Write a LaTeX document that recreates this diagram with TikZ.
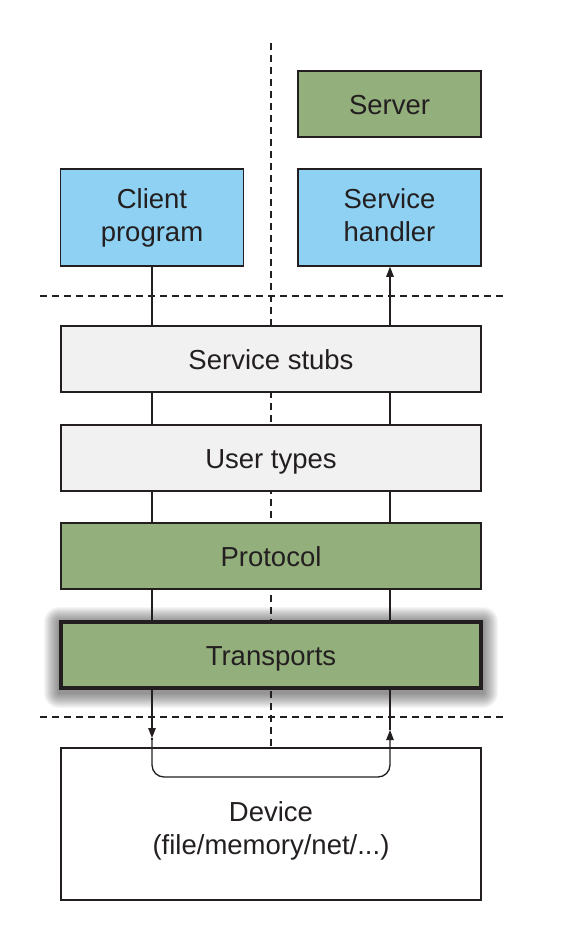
\documentclass[tikz,border=0pt]{standalone}
\usepackage{fontspec}
\setmainfont{Liberation Sans}
\usetikzlibrary{arrows.meta,backgrounds}
\definecolor{lblue}{HTML}{8ED1F2}
\definecolor{lgreen}{HTML}{93AF7B}
\definecolor{lgray}{HTML}{F1F1F1}
\definecolor{ink}{HTML}{231F20}
\begin{document}
\begin{tikzpicture}[x=1pt,y=-1pt]
\tikzset{every node/.style={inner sep=0pt,text=ink,font=\fontsize{27.5}{33}\selectfont,text height=20pt,text depth=0pt},
box/.style={draw=ink,line width=1.5pt,minimum height=66pt,align=center},
wide/.style={box,minimum width=420pt},
small/.style={box,minimum width=183pt},
twoline/.style={minimum height=97pt,text height=47pt},
cut/.style={ink,line width=1.3pt,dash pattern=on 7pt off 5pt},
wire/.style={ink,line width=1.3pt},
tip/.style={-{Triangle[length=10pt,width=7.5pt]}}}
\useasboundingbox (0,0) rectangle (575,930);
\node [small,fill=lgreen] (server) at (389.5,104) {Server};
\node [small,fill=lblue,twoline] (client) at (152,217.5) {Client\\program};
\node [small,fill=lblue,twoline] (handler) at (389.5,217.5) {Service\\handler};
\node [wide,fill=lgray] (stubs) at (271,359) {Service stubs};
\node [wide,fill=lgray] (types) at (271,458) {User types};
\node [wide,fill=lgreen] (protocol) at (271,556) {Protocol};
\node [wide,fill=lgreen,line width=4pt] (transports) at (271,655) {Transports};
\node [wide,minimum height=152pt,text height=60pt] (device) at (271,824) {Device\\(file/memory/net/...)};
\coordinate (top) at (271,43);
\coordinate (cl) at (40,296);
\coordinate (cr) at (503,296);
\coordinate (dl) at (40,717);
\coordinate (dr) at (503,717);
\coordinate (down) at (152,738);
\coordinate (up) at (390,730);
\coordinate (bl) at (152,777);
\coordinate (br) at (390,777);
\begin{scope}[on background layer]
\foreach \r in {1,...,15}
  \fill [black,opacity=0.035,rounded corners=\r pt] ([xshift=-\r pt,yshift=\r pt-2pt]transports.north west) rectangle ([xshift=\r pt,yshift=-\r pt-3pt]transports.south east);
\draw [cut] (top) -- (device.north);
\draw [wire] (client.south) -- (transports.north -| client.south);
\draw [wire,tip] (transports.north -| up) -- (handler.south -| up);
\end{scope}
\draw [cut] (cl) -- (cr);
\draw [cut] (dl) -- (dr);
\draw [wire,tip] (transports.south -| down) -- (down);
\draw [wire] (down) -- ++(0,2);
\draw [wire,tip,rounded corners=12pt] (down) -- (bl) -- (br) -- (up);
\draw [wire] (up) -- (transports.south -| up);
\end{tikzpicture}
\end{document}
